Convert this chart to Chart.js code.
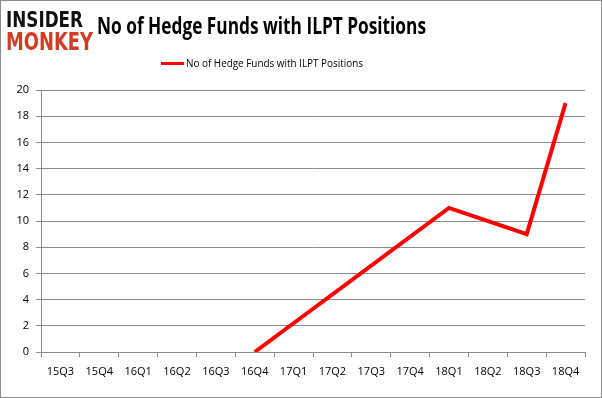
<!DOCTYPE html>
<html><head><meta charset="utf-8">
<script src="https://cdn.jsdelivr.net/npm/chart.js@4/dist/chart.umd.min.js"></script>
<style>
html,body{margin:0;padding:0;background:#fff;}
#wrap{position:relative;width:602px;height:398px;box-sizing:border-box;border:1px solid #8c8c8c;overflow:hidden;}
#c{position:absolute;left:0;top:0;}
.logo{position:absolute;left:5px;font-family:"DejaVu Sans",sans-serif;font-weight:900;white-space:nowrap;transform-origin:0 0;line-height:1;}
#title{position:absolute;left:96px;top:11px;font-family:"Open Sans",sans-serif;font-weight:bold;font-size:23px;color:#000;white-space:nowrap;transform-origin:0 0;line-height:1.2;}
#legend{position:absolute;left:160px;top:55px;font-family:"Open Sans",sans-serif;font-size:11px;color:#000;white-space:nowrap;line-height:14px;}
#legend span.ln{display:inline-block;width:23px;height:3px;background:#ff0000;vertical-align:middle;margin-right:2px;position:relative;top:-1px;}
</style></head>
<body>
<div id="wrap">
<canvas id="c" width="600" height="396"></canvas>
<div class="logo" id="l1" style="top:8px;font-size:22px;color:#111;">INSIDER</div>
<div class="logo" id="l2" style="top:28px;font-size:25px;color:#d23c24;">MONKEY</div>
<div id="title">No of Hedge Funds with ILPT Positions</div>
<div id="legend"><span class="ln"></span><span id="lt">No of Hedge Funds with ILPT Positions</span></div>
</div>
<script>
const categories = ["15Q3","15Q4","16Q1","16Q2","16Q3","16Q4","17Q1","17Q2","17Q3","17Q4","18Q1","18Q2","18Q3","18Q4"];
const hedgeFunds = [null,null,null,null,null,0,null,null,null,null,11,null,9,19];
const yTicks = [0,2,4,6,8,10,12,14,16,18,20];
const seriesName = "No of Hedge Funds with ILPT Positions";

function fitWidth(id, w){
  const el=document.getElementById(id);
  const r=el.getBoundingClientRect();
  el.style.transform='scaleX('+(w/r.width)+')';
}
fitWidth('l1',77); fitWidth('l2',87); fitWidth('title',329);
(function(){const el=document.getElementById('lt');const r=el.getBoundingClientRect();el.style.display='inline-block';el.style.transformOrigin='0 50%';el.style.transform='scaleX('+(177/r.width)+')';})();

const tickFont={family:"Open Sans, sans-serif",size:11};
new Chart(document.getElementById('c'),{
  type:'line',
  data:{labels:categories,datasets:[{label:seriesName,data:hedgeFunds,borderColor:'#ff0000',borderWidth:4,pointRadius:0,pointHoverRadius:0,tension:0,spanGaps:true,fill:false}]},
  options:{
    responsive:false,animation:false,
    layout:{padding:{left:4,right:16,top:89,bottom:0}},
    plugins:{legend:{display:false},title:{display:false},tooltip:{enabled:false}},
    scales:{
      x:{type:'category',offset:true,
        grid:{offset:true,drawOnChartArea:false,drawTicks:true,tickLength:5,color:'#8c8c8c'},
        border:{color:'#8c8c8c',width:1},
        ticks:{color:'#000',font:tickFont,padding:8,maxRotation:0,autoSkip:false},
        afterFit:s=>{s.height=45;}
      },
      y:{min:0,max:20,
        afterBuildTicks:s=>{s.ticks=yTicks.map(v=>({value:v}));},
        grid:{color:'#8c8c8c',tickLength:5,drawTicks:true},
        border:{color:'#8c8c8c',width:1},
        ticks:{color:'#000',font:tickFont,padding:7},
        afterFit:s=>{s.width=36;}
      }
    }
  }
});
</script>
</body></html>
